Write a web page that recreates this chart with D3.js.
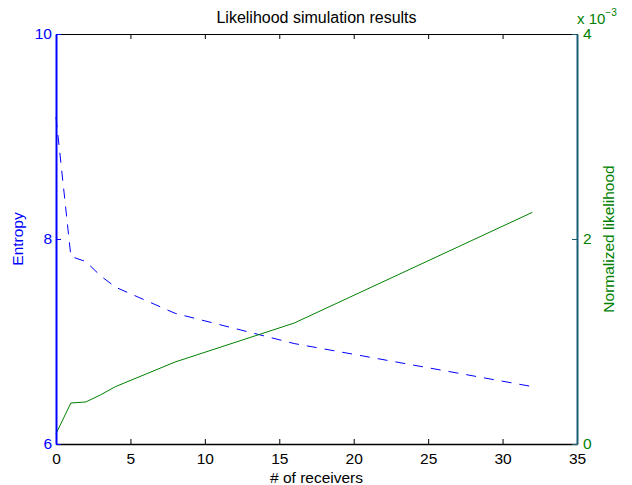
<!DOCTYPE html>
<html>
<head>
<meta charset="utf-8">
<script src="https://cdn.jsdelivr.net/npm/d3@7"></script>
<style>
  html, body { margin: 0; padding: 0; background: #fff; }
  svg { display: block; font-family: "Liberation Sans", Arial, Helvetica, sans-serif; }
</style>
</head>
<body>
<svg id="chart" width="632" height="485"></svg>
<script>
// Number of receivers at which the simulation was evaluated
const receivers = [0, 1, 2, 3, 4, 8, 16, 32];
// Entropy (left axis)
const entropy = [9.19, 7.83, 7.78, 7.64, 7.53, 7.275, 6.98, 6.56];
// Normalized likelihood (right axis, units of 1e-3)
const likelihood = [0.10, 0.40, 0.41, 0.48, 0.56, 0.80, 1.18, 2.26];

const xTicks = [0, 5, 10, 15, 20, 25, 30, 35];
const leftTicks = [6, 8, 10];
const rightTicks = [0, 2, 4];

const blue = "#0000ff";
const green = "#008000";
const rightAxisColor = "#1b5e78";

const margin = { left: 56, right: 55, top: 34, bottom: 41 };
const W = 632, H = 485;
const x0 = margin.left, x1 = W - margin.right;
const y0 = H - margin.bottom, y1 = margin.top;

const x = d3.scaleLinear().domain([0, 35]).range([x0, x1]);
const yL = d3.scaleLinear().domain([6, 10]).range([y0, y1]);
const yR = d3.scaleLinear().domain([0, 4]).range([y0, y1]);

const svg = d3.select("#chart");

// Data lines
const entropyLine = d3.line().x((d, i) => x(receivers[i])).y(d => yL(d));
const likeLine = d3.line().x((d, i) => x(receivers[i])).y(d => yR(d));

svg.append("path")
  .attr("d", entropyLine(entropy))
  .attr("fill", "none")
  .attr("stroke", blue)
  .attr("stroke-width", 1)
  .attr("stroke-dasharray", "10,8");

svg.append("path")
  .attr("d", likeLine(likelihood))
  .attr("fill", "none")
  .attr("stroke", green)
  .attr("stroke-width", 1);

const tickFont = "Liberation Sans, Arial, sans-serif";
const fmt = d3.format("d");

function styleTicks(g, color) {
  g.attr("font-size", 15).attr("font-family", tickFont);
  g.selectAll(".tick text")
    .attr("fill", color)
    .style("font-size", "15.5px")
    .style("font-family", tickFont);
}

// Bottom axis
const axisB = svg.append("g").attr("transform", `translate(0,${y0})`)
  .call(d3.axisBottom(x).tickValues(xTicks).tickFormat(fmt).tickSizeInner(-5).tickSizeOuter(0).tickPadding(9));
axisB.select(".domain").attr("stroke", "#000").attr("stroke-width", 1.5);
axisB.selectAll(".tick line").attr("stroke", "#000");
styleTicks(axisB, "#000");

// Top axis (ticks only)
const axisT = svg.append("g").attr("transform", `translate(0,${y1})`)
  .call(d3.axisTop(x).tickValues(xTicks).tickSizeInner(-5).tickSizeOuter(0).tickFormat(""));
axisT.select(".domain").attr("stroke", "#000").attr("stroke-width", 1);
axisT.selectAll(".tick line").attr("stroke", "#000");

// Left axis
const axisL = svg.append("g").attr("transform", `translate(${x0},0)`)
  .call(d3.axisLeft(yL).tickValues(leftTicks).tickFormat(fmt).tickSizeInner(-5).tickSizeOuter(0).tickPadding(4));
axisL.select(".domain").attr("stroke", blue).attr("stroke-width", 2);
axisL.selectAll(".tick line").attr("stroke", blue);
styleTicks(axisL, blue);

// Right axis
const axisR = svg.append("g").attr("transform", `translate(${x1},0)`)
  .call(d3.axisRight(yR).tickValues(rightTicks).tickFormat(fmt).tickSizeInner(-5).tickSizeOuter(0).tickPadding(6));
axisR.select(".domain").attr("stroke", rightAxisColor).attr("stroke-width", 2);
axisR.selectAll(".tick line").attr("stroke", rightAxisColor);
styleTicks(axisR, green);

// Exponent marker for the right axis
const expo = svg.append("text")
  .attr("x", x1).attr("y", 24)
  .attr("fill", green).style("font-size", "15px");
expo.append("tspan").text("x 10");
expo.append("tspan").attr("dy", -8).style("font-size", "10px").text("\u22123");

// Title and axis labels
svg.append("text")
  .attr("x", (x0 + x1) / 2).attr("y", 23)
  .attr("text-anchor", "middle").style("font-size", "16px").attr("fill", "#000")
  .text("Likelihood simulation results");

svg.append("text")
  .attr("x", (x0 + x1) / 2).attr("y", 483)
  .attr("text-anchor", "middle").style("font-size", "15.5px").attr("fill", "#000")
  .text("# of receivers");

svg.append("text")
  .attr("transform", `translate(23,${(y0 + y1) / 2}) rotate(-90)`)
  .attr("text-anchor", "middle").style("font-size", "15.5px").attr("fill", blue)
  .text("Entropy");

svg.append("text")
  .attr("transform", `translate(614,${(y0 + y1) / 2}) rotate(-90)`)
  .attr("text-anchor", "middle").style("font-size", "15.5px").attr("fill", green)
  .text("Normalized likelihood");
</script>
</body>
</html>
